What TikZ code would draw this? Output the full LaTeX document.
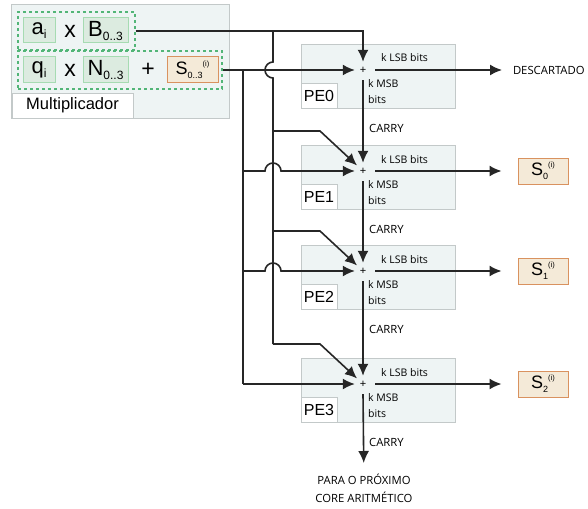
\documentclass[tikz,border=0pt]{standalone}
\usepackage{fontspec}
\setmainfont{Liberation Sans}
\newfontfamily\osans{Open Sans}
\usetikzlibrary{arrows.meta,calc}
\definecolor{panelfill}{HTML}{EEF4F4}
\definecolor{panelborder}{HTML}{C3C9C9}
\definecolor{gfill}{HTML}{DCEBE0}
\definecolor{gborder}{HTML}{A6DBB2}
\definecolor{sfill}{HTML}{F4EAD8}
\definecolor{sborder}{HTML}{D9925F}
\definecolor{dgreen}{HTML}{52B577}
\definecolor{wirecol}{HTML}{262626}
\begin{document}
\begin{tikzpicture}[x=1pt,y=1pt,
  panel/.style={draw=panelborder, fill=panelfill, line width=0.9pt, inner sep=0pt},
  whitebox/.style={draw=panelborder, fill=white, line width=0.9pt, inner sep=0pt},
  gbox/.style={draw=gborder, fill=gfill, line width=1pt, inner sep=0pt, minimum height=25pt, font=\fontsize{22}{22}\selectfont},
  sboxn/.style={draw=sborder, fill=sfill, line width=1pt, inner sep=0pt, minimum width=50pt, minimum height=26pt, font=\fontsize{18}{18}\selectfont},
  dbox/.style={draw=dgreen, line width=1.2pt, dash pattern=on 3pt off 3pt, inner sep=0pt},
  wire/.style={draw=wirecol, line width=1.6pt},
  arr/.style={wire, -{Latex[length=12pt,width=11pt]}},
  pebox/.style={panel, minimum width=154pt, minimum height=64pt},
  pelab/.style={whitebox, minimum width=36pt, minimum height=25pt, font=\fontsize{16}{16}\selectfont},
  plusn/.style={circle, minimum size=16pt, inner sep=0pt, font=\fontsize{11}{11}\selectfont},
  lbl/.style={inner sep=0pt, font=\osans\fontsize{10.5}{15.5}\selectfont},
  biglbl/.style={inner sep=0pt, font=\osans\fontsize{11.3}{18}\selectfont},
  op/.style={inner sep=0pt, font=\fontsize{23}{23}\selectfont}
]
\newcommand{\sbl}[1]{\raisebox{-4pt}{\fontsize{12}{12}\selectfont #1}}
\newcommand{\ssb}[1]{\raisebox{-4pt}{\fontsize{9}{9}\selectfont #1}}
\newcommand{\ssp}[1]{\raisebox{8pt}{\fontsize{7.5}{7.5}\selectfont #1}}
\useasboundingbox (0,0) rectangle (588,-508);

% Multiplier panel
\node[panel, minimum width=218pt, minimum height=114pt] (mult) at (120,-61) {};
\node[dbox, minimum width=117pt, minimum height=38pt] (d1) at (76.5,-31) {};
\node[dbox, minimum width=204pt, minimum height=38pt] (d2) at (120,-70) {};
\node[gbox, minimum width=32pt] (a) at (39,-30.5) {a\sbl{i}};
\node[op] (x1) at (70,-31) {x};
\node[gbox, minimum width=45pt] (B) at (105.5,-30.5) {B\sbl{0..3}};
\node[gbox, minimum width=32pt, minimum height=26pt] (q) at (39,-70) {q\sbl{i}};
\node[op] (x2) at (70,-70) {x};
\node[gbox, minimum width=45pt, minimum height=26pt] (N) at (105.5,-70) {N\sbl{0..3}};
\node[op] (pl) at (148,-70) {+};
\node[sboxn, minimum width=51pt] (S) at (192.5,-70) {S\ssb{0..3}\ssp{(i)}};
\node[whitebox, minimum width=121pt, minimum height=25pt, font=\fontsize{16.5}{16.5}\selectfont] (mlab) at (72.5,-105.5) {Multiplicador};

% PE boxes
\node[pebox] (pe0) at (378,-76) {};
\node[pebox] (pe1) at (378,-177) {};
\node[pebox] (pe2) at (378,-277) {};
\node[pebox] (pe3) at (378,-390) {};
\node[pelab] (pel0) at (319,-95.5) {PE0};
\node[pelab] (pel1) at (319,-196.5) {PE1};
\node[pelab] (pel2) at (319,-296.5) {PE2};
\node[pelab] (pel3) at (319,-409.5) {PE3};

% adders
\node[plusn] (p0) at (363,-70) {+};
\node[plusn] (p1) at (363,-171) {+};
\node[plusn] (p2) at (363,-271) {+};
\node[plusn] (p3) at (363,-384) {+};

% labels inside PEs
\node[lbl, anchor=base west] (lsb0) at (381,-62) {k LSB bits};
\node[lbl, anchor=base west] (lsb1) at (381,-163) {k LSB bits};
\node[lbl, anchor=base west] (lsb2) at (381,-263) {k LSB bits};
\node[lbl, anchor=base west] (lsb3) at (381,-376) {k LSB bits};
\node[lbl, anchor=north west, align=left] (msb0) at (368,-79.5) {k MSB\\bits};
\node[lbl, anchor=north west, align=left] (msb1) at (368,-180.5) {k MSB\\bits};
\node[lbl, anchor=north west, align=left] (msb2) at (368,-280.5) {k MSB\\bits};
\node[lbl, anchor=north west, align=left] (msb3) at (368,-393.5) {k MSB\\bits};
\node[biglbl, anchor=base west] (c0) at (369,-132) {CARRY};
\node[biglbl, anchor=base west] (c1) at (369,-233) {CARRY};
\node[biglbl, anchor=base west] (c2) at (369,-333) {CARRY};
\node[biglbl, anchor=base west] (c3) at (369,-446) {CARRY};

% outputs
\node[biglbl, anchor=west, outer xsep=11pt] (desc) at (502,-70) {DESCARTADO};
\node[sboxn] (s0) at (543,-171) {S\ssb{0}\ssp{(i)}};
\node[sboxn] (s1) at (543,-271) {S\ssb{1}\ssp{(i)}};
\node[sboxn] (s2) at (543,-384) {S\ssb{2}\ssp{(i)}};
\node[biglbl, anchor=north, align=center, outer ysep=11pt] (next) at (364,-463) {PARA O PRÓXIMO\\CORE ARITMÉTICO};

% junctions
\coordinate (t0) at (363,-31);
\coordinate (j1) at (273,-31);
\coordinate (j2) at (243,-70);
\coordinate (b1) at (273,-131);
\coordinate (b2) at (273,-231);
\coordinate (b3) at (273,-344);
\coordinate (h1) at (243,-171);
\coordinate (h2) at (243,-271);
\coordinate (h3) at (243,-384);

% wires
\draw[arr] (d1.east) -- (t0) -- (p0);
\draw[arr] (d2.east) -- (p0);
\draw[wire] (j1) -- ++(0,-31) arc(90:270:8) -- (b3);
\draw[wire] (j2) -- (h3);
\draw[arr] (b1) -- ++(47,0) -- (p1);
\draw[arr] (b2) -- ++(47,0) -- (p2);
\draw[arr] (b3) -- ++(47,0) -- (p3);
\draw[arr] (h1) -- ($(h1)+(22,0)$) arc(180:0:8) -- (p1);
\draw[arr] (h2) -- ($(h2)+(22,0)$) arc(180:0:8) -- (p2);
\draw[arr] (h3) -- (p3);

\draw[arr] ([yshift=-2pt]p0.south) -- (p1);
\draw[arr] ([yshift=-2pt]p1.south) -- (p2);
\draw[arr] ([yshift=-2pt]p2.south) -- (p3);
\draw[arr] ([yshift=-2pt]p3.south) -- (next);

\draw[arr] ([xshift=4pt]p0.east) -- (desc.west);
\draw[arr, shorten >=16pt] ([xshift=4pt]p1.east) -- (s0.west);
\draw[arr, shorten >=16pt] ([xshift=4pt]p2.east) -- (s1.west);
\draw[arr, shorten >=16pt] ([xshift=4pt]p3.east) -- (s2.west);
\end{tikzpicture}
\end{document}
